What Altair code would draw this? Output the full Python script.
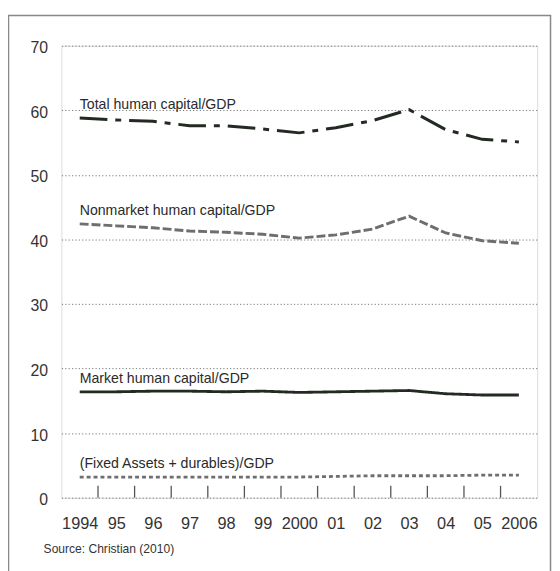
import json
import altair as alt
import pandas as pd

years = list(range(1994, 2007))
tick_labels = ["1994", "95", "96", "97", "98", "99", "2000", "01", "02", "03", "04", "05", "2006"]
total = [58.8, 58.5, 58.3, 57.6, 57.6, 57.1, 56.5, 57.3, 58.4, 60.1, 57.0, 55.5, 55.1]
nonmarket = [42.4, 42.1, 41.8, 41.3, 41.1, 40.8, 40.2, 40.7, 41.6, 43.6, 41.0, 39.8, 39.4]
market = [16.4, 16.4, 16.5, 16.5, 16.4, 16.5, 16.3, 16.4, 16.5, 16.6, 16.1, 15.9, 15.9]
fixed = [3.2, 3.2, 3.2, 3.2, 3.2, 3.2, 3.2, 3.3, 3.4, 3.4, 3.4, 3.5, 3.5]
series_names = [
    "Total human capital/GDP",
    "Nonmarket human capital/GDP",
    "Market human capital/GDP",
    "(Fixed Assets + durables)/GDP",
]
y_ticks = [0, 10, 20, 30, 40, 50, 60, 70]
source_text = "Source: Christian (2010)"

FONT = "Liberation Sans"
INK = "#222a22"

rows = []
for name, vals in zip(series_names, [total, nonmarket, market, fixed]):
    for yr, v in zip(years, vals):
        rows.append({"year": yr, "value": v, "series": name})
df = pd.DataFrame(rows)
first = df[df["year"] == years[0]]
bounds = pd.DataFrame({"year": [y + 0.5 for y in years[:-1]]})

x_enc = alt.X(
    "year:Q",
    scale=alt.Scale(domain=[years[0] - 0.5, years[-1] + 0.5], nice=False, zero=False),
    axis=alt.Axis(
        values=years,
        title=None,
        grid=False,
        domain=False,
        ticks=False,
        tickSize=0,
        labelExpr=f"{json.dumps(tick_labels)}[datum.value - {years[0]}]",
        labelFont=FONT,
        labelFontSize=16.5,
        labelColor="#333",
        labelBaseline="alphabetic",
        labelPadding=31,
        labelFlush=False,
        labelOverlap=False,
    ),
)
y_enc = alt.Y(
    "value:Q",
    scale=alt.Scale(domain=[0, 70], nice=False),
    axis=alt.Axis(
        values=y_ticks,
        title=None,
        grid=True,
        gridDash=[1.2, 2.2],
        gridColor="#777",
        gridWidth=1,
        domain=False,
        ticks=False,
        tickSize=0,
        labelFont=FONT,
        labelFontSize=16,
        labelColor="#333",
        labelPadding=14,
        labelOffset=2,
    ),
)

frame = alt.Chart(pd.DataFrame({"k": [0]})).mark_rect(
    fillOpacity=0, stroke="#888", strokeWidth=1.5
).encode(
    x=alt.value(-53.5), x2=alt.value(494.5), y=alt.value(-30.5), y2=alt.value(600)
)

lines = alt.Chart(df).mark_line().encode(
    x=x_enc,
    y=y_enc,
    color=alt.Color("series:N", scale=alt.Scale(domain=series_names,
                    range=[INK, "#6e6e6e", INK, "#6e6e6e"]), legend=None),
    strokeDash=alt.StrokeDash("series:N", scale=alt.Scale(domain=series_names,
                    range=[[28, 8, 6, 8], [9, 3], [1, 0], [4, 3]]), legend=None),
    size=alt.Size("series:N", scale=alt.Scale(domain=series_names,
                    range=[3, 2.8, 2.4, 2.6]), legend=None),
)

labels = alt.Chart(first).mark_text(
    align="left", baseline="alphabetic", dy=-9, font=FONT, fontSize=14.3, color="#2a2a2a"
).encode(x=x_enc, y=y_enc, text="series:N")

ticks = alt.Chart(bounds).mark_rule(color="#555", strokeWidth=1.3).encode(
    x=x_enc, y=alt.value(457), y2=alt.value(445)
)

source = alt.Chart(pd.DataFrame({"t": [source_text]})).mark_text(
    align="left", baseline="alphabetic", font=FONT, fontSize=12.2, color="#333"
).encode(x=alt.value(-18), y=alt.value(513), text="t:N")

chart = alt.layer(frame, lines, ticks, labels, source).properties(
    width=481,
    height=457,
    autosize=alt.AutoSizeParams(type="none"),
    padding={"left": 54, "top": 35, "right": 15, "bottom": 71},
).configure_view(stroke="#555", strokeWidth=1.5).configure(background="white")

chart.save("out.html", embed_options={"renderer": "svg", "actions": False})
